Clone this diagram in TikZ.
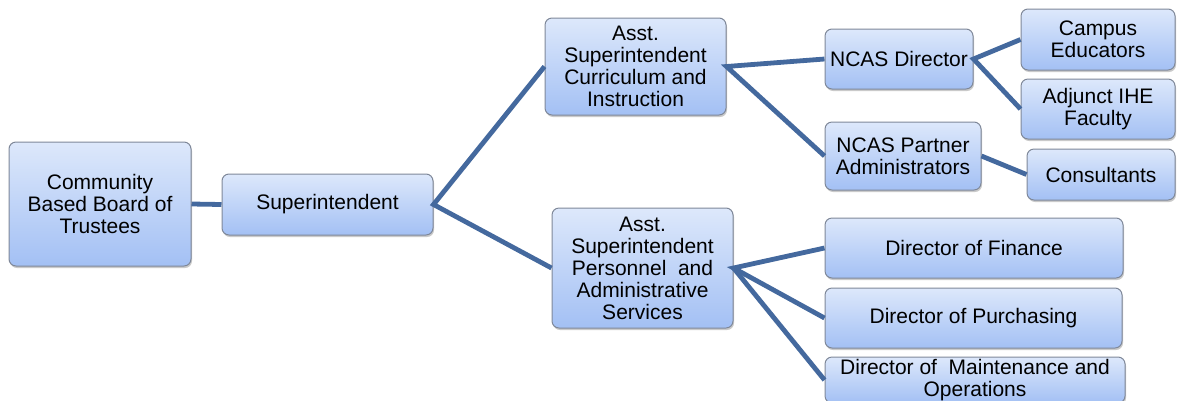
\documentclass[tikz,border=0pt]{standalone}
\usepackage{fontspec}
\setmainfont{Liberation Sans}
\usetikzlibrary{shadows}
\definecolor{boxtop}{HTML}{DDE8FB}
\definecolor{boxbot}{HTML}{A3C0F4}
\definecolor{boxborder}{HTML}{7F8899}
\definecolor{linkc}{HTML}{44699E}
\tikzset{
  orgbox/.style={draw=boxborder, line width=1pt, rounded corners=7pt,
    top color=boxtop, bottom color=boxbot, inner sep=0pt, align=center,
    font=\fontsize{21}{22}\selectfont,
    drop shadow={opacity=0.35, shadow xshift=1pt, shadow yshift=-2pt, fill=black!60}},
  link/.style={draw=linkc, line width=4.8pt}
}
\begin{document}
\begin{tikzpicture}[x=1pt,y=-1pt]
\useasboundingbox (0,0) rectangle (1177,400);
\clip (0,0) rectangle (1177,400);
\node[orgbox, minimum width=182pt, minimum height=124pt] (board) at (100,204) {Community\\Based Board of\\Trustees};
\node[orgbox, minimum width=211pt, minimum height=61pt] (super) at (327.5,204.5) {Superintendent};
\node[orgbox, minimum width=181pt, minimum height=97pt] (curr) at (635.5,66.5) {Asst.\\Superintendent\\Curriculum and\\Instruction};
\node[orgbox, minimum width=181pt, minimum height=120pt] (pers) at (642.5,268) {Asst.\\Superintendent\\Personnel~ and\\Administrative\\Services};
\node[orgbox, minimum width=148pt, minimum height=60pt] (ncasdir) at (899,59) {NCAS Director};
\node[orgbox, minimum width=156pt, minimum height=68pt] (ncaspart) at (903,156) {NCAS Partner\\Administrators};
\node[orgbox, minimum width=154pt, minimum height=61pt] (campus) at (1098,39.5) {Campus\\Educators};
\node[orgbox, minimum width=154pt, minimum height=60pt] (adjunct) at (1098,109) {Adjunct IHE\\Faculty};
\node[orgbox, minimum width=148pt, minimum height=51pt] (consult) at (1101,174.5) {Consultants};
\node[orgbox, minimum width=298pt, minimum height=60pt] (finance) at (974,248) {Director of Finance};
\node[orgbox, minimum width=297pt, minimum height=60pt] (purch) at (973.5,318) {Director of Purchasing};
\node[orgbox, minimum width=300pt, minimum height=46pt] (maint) at (975,380) {Director of~ Maintenance and\\Operations};
\draw[link] (board.east) -- (super.west);
\draw[link] (curr.west) -- (super.east) -- (pers.west);
\draw[link] (ncasdir.west) -- (curr.east) -- (ncaspart.west);
\draw[link] (campus.west) -- (ncasdir.east) -- (adjunct.west);
\draw[link] (ncaspart.east) -- (consult.west);
\draw[link] (finance.west) -- (pers.east) -- (purch.west);
\draw[link] (pers.east) -- (maint.west);
\end{tikzpicture}
\end{document}
